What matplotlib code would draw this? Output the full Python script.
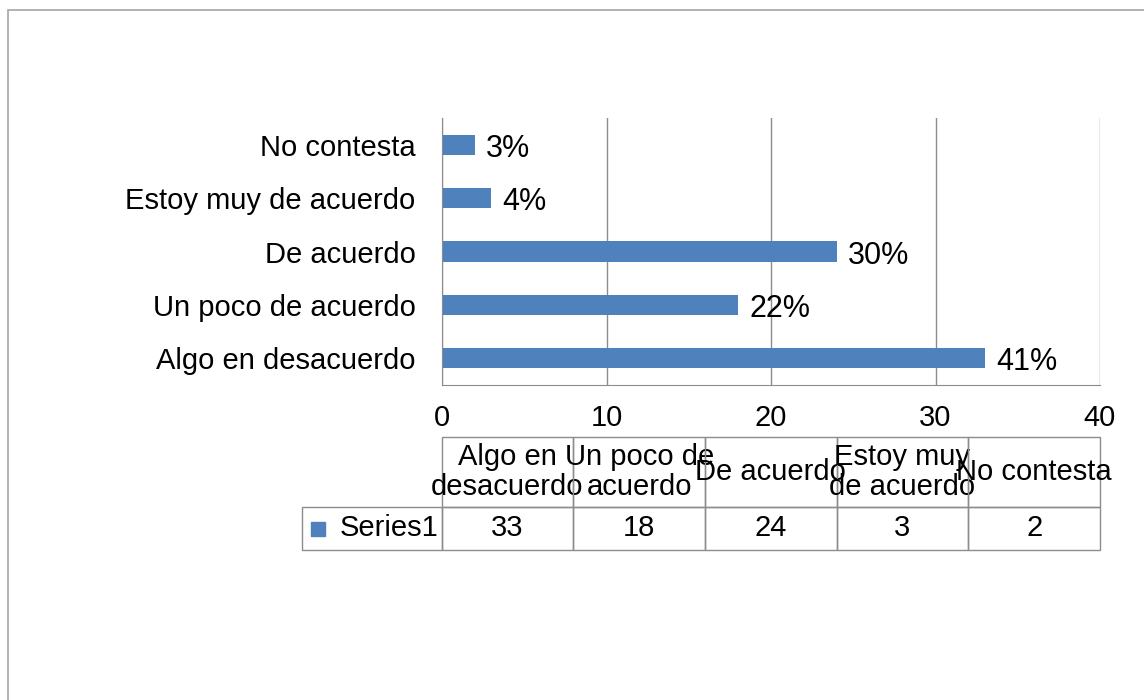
import matplotlib.pyplot as plt
from matplotlib.patches import Rectangle

plt.rcParams['font.family'] = ['Liberation Sans', 'DejaVu Sans']

categorias = ["Algo en desacuerdo", "Un poco de acuerdo", "De acuerdo",
              "Estoy muy de acuerdo", "No contesta"]
encabezados = ["Algo en\ndesacuerdo", "Un poco de\nacuerdo", "De acuerdo",
               "Estoy muy\nde acuerdo", "No contesta"]
valores = [33, 18, 24, 3, 2]
porcentajes = ["41%", "22%", "30%", "4%", "3%"]
serie = "Series1"

azul = "#4f81bd"
gris = "#8c8c8c"
fs = 21

fig = plt.figure(figsize=(11.44, 7.0), dpi=100)
# marco exterior
fig.patches.append(Rectangle((8 / 1144, -0.05), 1.2, 1 - 10 / 700 + 0.05,
                             transform=fig.transFigure, fill=False,
                             edgecolor="#a6a6a6", linewidth=1.2))

ax = fig.add_axes([442 / 1144, 1 - 385 / 700, 658 / 1144, 267 / 700])
pos = list(range(len(categorias)))
ax.barh(pos, valores, height=0.38, color=azul)

for y, v, p in zip(pos, valores, porcentajes):
    ax.annotate(p, (v, y), xytext=(8, -3), textcoords="offset points",
                va="center", ha="left", fontsize=22)

ax.set_xlim(0, 40)
ax.set_ylim(-0.5, len(categorias) - 0.5)
ax.set_xticks([0, 10, 20, 30, 40])
ax.set_yticks(pos)
ax.set_yticklabels(categorias)
ax.tick_params(axis="y", length=0, pad=19, labelsize=fs)
ax.tick_params(axis="x", length=0, pad=14, labelsize=fs)
ax.grid(axis="x", color=gris, linewidth=1)
ax.set_axisbelow(True)
for s in ["top", "right"]:
    ax.spines[s].set_visible(False)
for s in ["left", "bottom"]:
    ax.spines[s].set_color(gris)

# tabla de datos
tabla = ax.table(cellText=[[serie] + [str(v) for v in valores]],
                 colLabels=[""] + encabezados,
                 cellLoc="center",
                 colWidths=[140 / 658] + [132 / 658] * 5,
                 bbox=[-140 / 658, -165 / 267, 798 / 658, 113 / 267])
tabla.auto_set_font_size(False)
tabla.set_fontsize(fs)
for (r, c), cell in tabla.get_celld().items():
    cell.set_edgecolor(gris)
    cell.set_facecolor("none")
    cell.set_height(70 / 267 if r == 0 else 43 / 267)
    cell.PAD = 0.02
    cell.get_text().set_linespacing(1.05)
    if r == 0 and c == 0:
        cell.visible_edges = ""
    if r == 1 and c == 0:
        cell.get_text().set_ha("right")
        cell._loc = "right"

ax.add_patch(Rectangle((-131 / 658, -151 / 267), 14 / 658, 14 / 267,
                       transform=ax.transAxes, color=azul, clip_on=False))

fig.savefig("out.png", dpi=100)
